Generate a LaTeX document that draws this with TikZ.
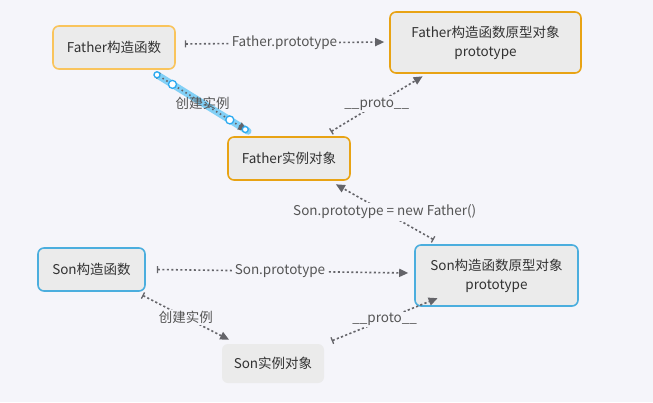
\documentclass[tikz,border=0pt]{standalone}
\usepackage{fontspec}
\setmainfont{Noto Sans CJK SC}
\usetikzlibrary{arrows.meta, calc}
\definecolor{sfondo}{RGB}{245,245,250}
\definecolor{grigio}{RGB}{235,235,235}
\definecolor{arancioChiaro}{RGB}{249,196,92}
\definecolor{arancio}{RGB}{232,163,20}
\definecolor{azzurro}{RGB}{75,174,222}
\definecolor{linea}{RGB}{100,100,105}
\definecolor{testo}{RGB}{50,50,50}
\definecolor{etic}{RGB}{85,85,85}
\definecolor{selezione}{RGB}{130,208,246}
\definecolor{maniglia}{RGB}{45,170,240}

\begin{document}
\begin{tikzpicture}[x=1pt, y=-1pt,
    scatola/.style={rounded corners=6pt, fill=grigio, line width=1.6pt, text=testo,
        font=\fontsize{13.5}{19}\selectfont, align=center, inner sep=0pt},
    freccia/.style={draw=linea, line width=1.6pt, dash pattern=on 2.2pt off 2.3pt,
        {Bar[width=7pt,line width=1.3pt]}-{Triangle[length=9pt,width=8pt]},
        shorten <=1pt, shorten >=1pt},
    etichetta/.style={fill=sfondo, text=etic, font=\fontsize{13.5}{15}\selectfont, inner sep=1.5pt},
    maniglia/.style={fill=white, draw=maniglia, line width=1.3pt}]
    % Sfondo
    \fill[sfondo] (0,0) rectangle (653,402);
    \useasboundingbox (0,0) rectangle (653,402);
    % Nodi Father
    \node[scatola, draw=arancioChiaro, minimum width=122pt, minimum height=43pt] (fcost) at (114,47.5) {Father构造函数};
    \node[scatola, draw=arancio, minimum width=191pt, minimum height=61pt] (fproto) at (485.5,42.5) {Father构造函数原型对象\\prototype};
    \node[scatola, draw=arancio, minimum width=122pt, minimum height=43pt] (fist) at (289,158.5) {Father实例对象};
    % Nodi Son
    \node[scatola, draw=azzurro, minimum width=107pt, minimum height=43pt] (scost) at (91.5,269.5) {Son构造函数};
    \node[scatola, draw=azzurro, minimum width=163pt, minimum height=61pt] (sproto) at (496.5,275.5) {Son构造函数原型对象\\prototype};
    \node[scatola, draw=none, minimum width=102pt, minimum height=39pt] (sist) at (273,363.5) {Son实例对象};
    % Estremi delle frecce oblique
    \coordinate (a1) at ([xshift=43pt,yshift=-5pt]fcost.south);
    \coordinate (b1) at ([xshift=-41pt,yshift=5pt]fist.north);
    \coordinate (a2) at ([xshift=41pt,yshift=4pt]fist.north);
    \coordinate (b2) at ([xshift=-62pt,yshift=-2pt]fproto.south);
    \coordinate (a3) at ([xshift=-62pt,yshift=4pt]sproto.north);
    \coordinate (b3) at ([xshift=46pt,yshift=-3pt]fist.south);
    \coordinate (a4) at ([xshift=50pt,yshift=-3pt]scost.south);
    \coordinate (b4) at ([xshift=-43pt,yshift=3pt]sist.north);
    \coordinate (a5) at ([xshift=6pt,yshift=2pt]sist.north east);
    \coordinate (b5) at ([xshift=-58pt,yshift=9pt]sproto.south);
    % Selezione (creazione istanza Father)
    \draw[selezione, line width=7pt, line cap=round] (a1) -- (b1);
    % Frecce
    \draw[freccia] ([xshift=8pt,yshift=3.5pt]fcost.east) -- ([xshift=-4pt,yshift=0.5pt]fproto.west)
        node[etichetta, pos=0.5]{Father.prototype};
    \draw[freccia, dash pattern=on 1.5pt off 3pt] (a1) -- (b1) node[etichetta, fill=none, pos=0.5]{创建实例};
    \draw[freccia] (a2) -- (b2) node[etichetta, pos=0.5]{\_\_proto\_\_};
    \draw[freccia] (a3) -- (b3) node[etichetta, pos=0.5]{Son.prototype = new Father()};
    \draw[freccia] ([xshift=10pt]scost.east) -- ([xshift=-5pt,yshift=2.5pt]sproto.west)
        node[etichetta, pos=0.49]{Son.prototype};
    \draw[freccia] (a4) -- (b4) node[etichetta, pos=0.5]{创建实例};
    \draw[freccia] (a5) -- (b5) node[etichetta, pos=0.5]{\_\_proto\_\_};
    % Maniglie
    \draw[maniglia] (a1) circle (3pt);
    \draw[maniglia] ($(a1)!0.17!(b1)$) circle (4pt);
    \draw[maniglia] ($(a1)!0.8!(b1)$) circle (4pt);
    \draw[maniglia] ($(a1)!0.97!(b1)$) circle (3pt);
\end{tikzpicture}
\end{document}
